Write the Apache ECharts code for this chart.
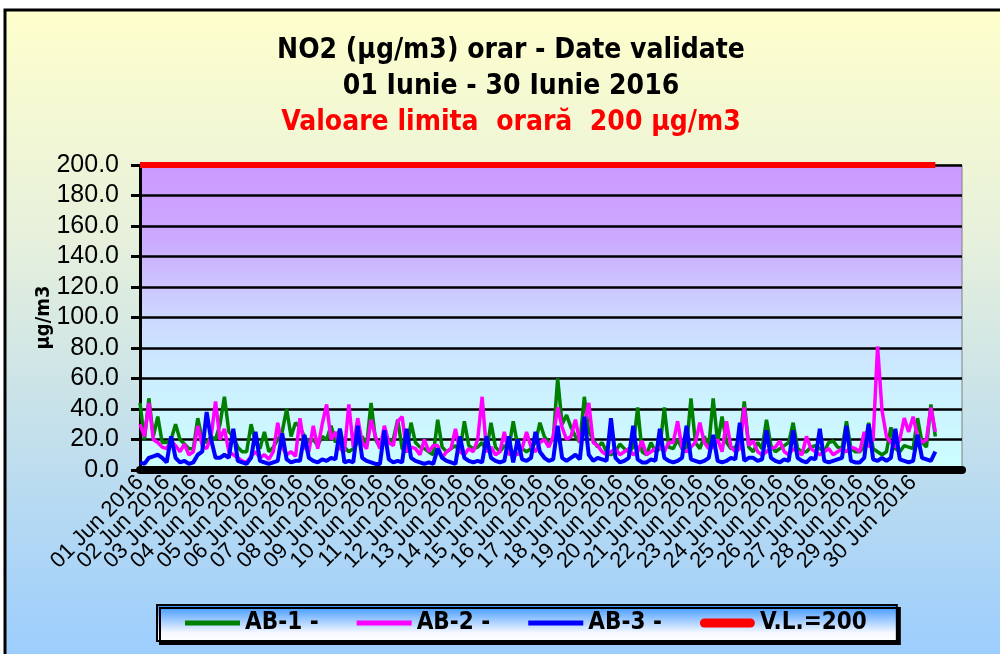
<!DOCTYPE html>
<html>
<head>
<meta charset="utf-8">
<title>NO2 orar</title>
<script src="https://cdn.jsdelivr.net/npm/echarts@6/dist/echarts.min.js"></script>
<style>
  html, body { margin: 0; padding: 0; background: #fff; }
  #myChart { width: 1000px; height: 654px; }
</style>
</head>
<body>
<div id="myChart"></div>
<script>
// etichete zile (axa X)
const dayLabels = [
  '01 Jun 2016', '02 Jun 2016', '03 Jun 2016', '04 Jun 2016', '05 Jun 2016',
  '06 Jun 2016', '07 Jun 2016', '08 Jun 2016', '09 Jun 2016', '10 Jun 2016',
  '11 Jun 2016', '12 Jun 2016', '13 Jun 2016', '14 Jun 2016', '15 Jun 2016',
  '16 Jun 2016', '17 Jun 2016', '18 Jun 2016', '19 Jun 2016', '20 Jun 2016',
  '21 Jun 2016', '22 Jun 2016', '23 Jun 2016', '24 Jun 2016', '25 Jun 2016',
  '26 Jun 2016', '27 Jun 2016', '28 Jun 2016', '29 Jun 2016', '30 Jun 2016'
]
// intervale de 4 ore (6 pe zi); axa se intinde pana la 01 Jul 20:00
const slotHours = ['00', '04', '08', '12', '16', '20']
const axisDays = 31
const axisSlots = 186
// valori la 4 ore
const ab1 = [
  44, 20, 47, 22, 35, 18,  18, 20, 30, 20, 17, 14,  14, 34, 20, 18, 22, 20,
  30, 48, 25, 22, 15, 12,  12, 30, 18, 14, 25, 12,  15, 20, 25, 40, 22, 31,
  28, 22, 18, 20, 16, 22,  20, 29, 18, 27, 15, 12,  14, 18, 22, 16, 44, 20,
  15, 22, 18, 20, 33, 14,  12, 31, 18, 15, 14, 12,  10, 33, 15, 12, 14, 16,
  12, 32, 16, 14, 15, 18,  12, 31, 15, 12, 16, 14,  32, 16, 14, 12, 14, 18,
  31, 22, 18, 20, 60, 30,  36, 28, 22, 18, 48, 25,  20, 15, 18, 12, 10, 12,
  17, 14, 12, 15, 41, 12,  10, 18, 12, 14, 41, 15,  14, 20, 14, 15, 47, 18,
  14, 22, 15, 47, 18, 35,  18, 14, 15, 20, 45, 15,  12, 18, 14, 33, 16, 12,
  14, 16, 18, 31, 14, 12,  12, 15, 16, 14, 12, 18,  19, 15, 14, 32, 14, 12,
  12, 15, 31, 14, 12, 10,  12, 28, 14, 12, 16, 15,  14, 34, 18, 15, 43, 22
]
const ab2 = [
  30, 22, 44, 20, 18, 15,  14, 19, 16, 12, 17, 10,  12, 29, 16, 14, 22, 45,
  20, 27, 12, 10, 8, 6,    5, 9, 12, 8, 10, 7,      12, 31, 15, 10, 12, 9,
  34, 15, 12, 29, 14, 30,  43, 20, 25, 14, 12, 43,  15, 34, 18, 14, 33, 22,
  14, 29, 18, 16, 32, 35,  12, 15, 14, 10, 20, 12,  16, 16, 8, 12, 14, 27,
  12, 10, 14, 12, 20, 48,  12, 15, 10, 12, 25, 10,  12, 10, 14, 25, 15, 12,
  18, 20, 15, 22, 41, 28,  20, 22, 33, 18, 30, 44,  18, 16, 12, 10, 12, 14,
  10, 12, 14, 10, 12, 19,  10, 12, 14, 15, 12, 18,  18, 32, 14, 12, 15, 18,
  31, 18, 14, 15, 20, 12,  32, 15, 12, 14, 41, 16,  19, 12, 10, 12, 14, 15,
  19, 12, 10, 14, 12, 10,  22, 14, 12, 10, 12, 14,  10, 12, 14, 12, 15, 14,
  12, 25, 15, 20, 81, 39,  22, 18, 15, 20, 34, 25,  35, 22, 18, 20, 41, 25
]
const ab3 = [
  5, 4, 8, 9, 10, 8,    5, 22, 8, 5, 6, 4,    5, 10, 12, 38, 20, 8,
  8, 10, 8, 27, 6, 5,   4, 8, 25, 6, 5, 4,    5, 6, 24, 7, 5, 6,
  6, 23, 8, 6, 5, 7,    6, 8, 7, 27, 5, 6,    5, 29, 8, 6, 5, 4,
  4, 26, 7, 5, 6, 5,    27, 8, 6, 5, 4, 5,    4, 14, 8, 6, 5, 4,
  22, 8, 6, 5, 6, 5,    22, 8, 6, 5, 6, 22,   5, 20, 7, 6, 8, 25,
  12, 8, 6, 7, 29, 8,   6, 8, 10, 7, 35, 10,  6, 8, 7, 6, 34, 8,
  5, 6, 8, 29, 7, 5,    5, 7, 6, 27, 8, 6,    5, 6, 8, 29, 7, 6,
  5, 6, 8, 23, 6, 5,    6, 8, 7, 31, 6, 8,    8, 6, 7, 26, 8, 6,
  5, 7, 6, 26, 8, 6,    5, 8, 7, 27, 6, 5,    6, 7, 8, 29, 6, 5,
  5, 8, 30, 7, 6, 8,    6, 8, 27, 7, 6, 5,    6, 23, 8, 7, 6, 12
]
const limitValue = 200

const titleFont = '"DejaVu Sans Condensed", "Liberation Sans Narrow", "DejaVu Sans", sans-serif'
// simboluri legenda: linie subtire si linie groasa rotunjita
const thinLineIcon = 'path://M0,0h55v5h-55z'
const thickLineIcon = 'path://M4.5,0h46a4.5,4.5 0 0 1 0,9h-46a4.5,4.5 0 0 1 0,-9z'

// categorii axa X: cate una la 4 ore
const slotNames = []
for (let d = 0; d < axisDays; d++) {
  for (let s = 0; s < slotHours.length; s++) {
    if (slotNames.length < axisSlots) slotNames.push('z' + (d + 1) + ' ' + slotHours[s] + ':00')
  }
}
const lastSlot = ab1.length - 1

let myChart = echarts.init(document.getElementById('myChart'))
myChart.setOption({
  animation: false,
  backgroundColor: '#ffffff',
  graphic: [
    {
      type: 'rect',
      z: -10,
      silent: true,
      shape: { x: 5, y: 10, width: 1010, height: 660 },
      style: {
        fill: {
          type: 'linear', x: 0, y: 0, x2: 0, y2: 1,
          colorStops: [
            { offset: 0, color: '#FFFFCC' },
            { offset: 0.35, color: '#E6F0DC' },
            { offset: 1, color: '#99CCFF' }
          ]
        },
        stroke: '#000',
        lineWidth: 3
      }
    },
    {
      type: 'text', x: 511, y: 51,
      style: { text: 'NO2 (µg/m3) orar - Date validate', fill: '#000', font: 'bold 28px ' + titleFont, align: 'center', verticalAlign: 'middle' }
    },
    {
      type: 'text', x: 511, y: 87,
      style: { text: '01 Iunie - 30 Iunie 2016', fill: '#000', font: 'bold 28px ' + titleFont, align: 'center', verticalAlign: 'middle' }
    },
    {
      type: 'text', x: 511, y: 123,
      style: { text: 'Valoare limita  orară  200 µg/m3', fill: '#FF0000', font: 'bold 28px ' + titleFont, align: 'center', verticalAlign: 'middle' }
    }
  ],
  legend: {
    left: 157,
    top: 605,
    padding: [6, 30, 6, 28],
    itemGap: 38,
    itemWidth: 55,
    itemHeight: 9,
    symbolKeepAspect: true,
    backgroundColor: {
      type: 'linear', x: 0, y: 0, x2: 0, y2: 1,
      colorStops: [
        { offset: 0, color: '#2F8FFF' },
        { offset: 0.75, color: '#F4F8FF' },
        { offset: 1, color: '#FFFFFF' }
      ]
    },
    borderColor: '#000',
    borderWidth: 2,
    borderRadius: 0,
    shadowColor: '#000',
    shadowBlur: 0,
    shadowOffsetX: 3,
    shadowOffsetY: 3,
    textStyle: { fontFamily: titleFont, fontWeight: 'bold', fontSize: 24, lineHeight: 24, color: '#000' },
    data: [
      { name: 'AB-1 -', icon: thinLineIcon },
      { name: 'AB-2 -', icon: thinLineIcon },
      { name: 'AB-3 -', icon: thinLineIcon },
      { name: 'V.L.=200', icon: thickLineIcon }
    ]
  },
  grid: {
    left: 140,
    right: 38,
    top: 165,
    bottom: 184,
    show: true,
    borderColor: '#808080',
    borderWidth: 1,
    backgroundColor: {
      type: 'linear', x: 0, y: 0, x2: 0, y2: 1,
      colorStops: [
        { offset: 0, color: '#CC99FF' },
        { offset: 0.25, color: '#CCAAFF' },
        { offset: 0.5, color: '#CCD8FF' },
        { offset: 0.7, color: '#CCEEFF' },
        { offset: 1, color: '#CCFFFF' }
      ]
    },
    outerBoundsMode: 'none'
  },
  xAxis: {
    type: 'category',
    data: slotNames,
    boundaryGap: false,
    splitLine: { show: false },
    axisTick: { show: false },
    axisLine: { show: true, onZero: false, lineStyle: { color: '#000', width: 8 } },
    axisLabel: {
      interval: 0,
      rotate: 45,
      margin: 9,
      fontFamily: 'Liberation Sans, Arial, sans-serif',
      fontSize: 22,
      color: '#000',
      formatter: function (value, index) {
        if (index % slotHours.length !== 0) return ''
        return dayLabels[index / slotHours.length] || ''
      }
    }
  },
  yAxis: {
    type: 'value',
    min: 0,
    max: 200,
    interval: 20,
    name: 'µg/m3',
    nameLocation: 'middle',
    nameRotate: 90,
    nameGap: 86,
    nameMoveOverlap: false,
    nameTextStyle: { fontFamily: titleFont, fontWeight: 'bold', fontSize: 20, color: '#000' },
    axisLine: { show: true, lineStyle: { color: '#000', width: 3 } },
    axisTick: { show: true, inside: false, length: 9, lineStyle: { color: '#000', width: 3 } },
    splitLine: { show: true, lineStyle: { color: '#000', width: 2.5 } },
    axisLabel: {
      margin: 21,
      fontFamily: 'Liberation Sans, Arial, sans-serif',
      fontSize: 25,
      color: '#000',
      formatter: function (v) { return v.toFixed(1) }
    }
  },
  series: [
    {
      name: 'AB-1 -', type: 'line', symbol: 'none', color: '#008000',
      lineStyle: { color: '#008000', width: 3.5 },
      data: ab1
    },
    {
      name: 'AB-2 -', type: 'line', symbol: 'none', color: '#FF00FF',
      lineStyle: { color: '#FF00FF', width: 3.5 },
      data: ab2
    },
    {
      name: 'AB-3 -', type: 'line', symbol: 'none', color: '#0000FF',
      lineStyle: { color: '#0000FF', width: 4 },
      data: ab3
    },
    {
      name: 'V.L.=200', type: 'line', symbol: 'none', color: '#FF0000', clip: false,
      lineStyle: { color: '#FF0000', width: 6 },
      data: [[0, limitValue], [lastSlot, limitValue]]
    }
  ]
})
</script>
</body>
</html>
